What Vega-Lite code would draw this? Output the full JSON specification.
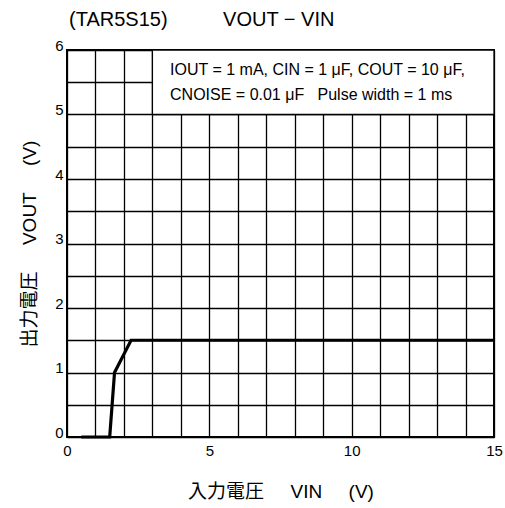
{
  "$schema": "https://vega.github.io/schema/vega-lite/v6.json",
  "width": 427,
  "height": 387,
  "autosize": {"type": "none"},
  "padding": {"left": 67, "top": 50, "right": 11, "bottom": 71},
  "background": "white",
  "config": {
    "font": "Liberation Sans",
    "view": {"stroke": "black", "strokeWidth": 2},
    "axis": {"gridColor": "black", "gridWidth": 1.3, "gridOpacity": 1, "domain": false, "ticks": false, "labelColor": "black", "labelFont": "Liberation Sans", "labelFontSize": 15, "titleColor": "black", "titleFont": "Liberation Sans, Noto Sans CJK JP", "titleFontSize": 19, "titleFontWeight": "normal"}
  },
  "title": {"text": "(TAR5S15)\u00a0\u00a0\u00a0\u00a0\u00a0\u00a0\u00a0\u00a0\u00a0\u00a0VOUT − VIN", "anchor": "start", "frame": "group", "fontSize": 20, "fontWeight": "normal", "font": "Liberation Sans", "color": "black", "offset": 8, "dx": 2},
  "datasets": {
    "curve": [
      {"x": 0.5, "y": 0},
      {"x": 1.5, "y": 0},
      {"x": 1.67, "y": 1.0},
      {"x": 2.25, "y": 1.5},
      {"x": 15, "y": 1.5}
    ],
    "box": [{"x": 3, "x2": 15, "y": 5, "y2": 6}],
    "notes": [
      {"x": 3.62, "y": 5.69, "label": "IOUT = 1 mA, CIN = 1 μF, COUT = 10 μF,"},
      {"x": 3.62, "y": 5.3, "label": "CNOISE = 0.01 μF\u00a0\u00a0\u00a0Pulse width = 1 ms"}
    ]
  },
  "encoding": {
    "x": {"field": "x", "type": "quantitative", "scale": {"domain": [0, 15], "nice": false, "zero": false},
          "axis": {"values": [0,1,2,3,4,5,6,7,8,9,10,11,12,13,14,15], "labelExpr": "datum.value % 5 === 0 ? format(datum.value, 'd') : ''", "title": "入力電圧\u00a0\u00a0\u00a0\u00a0\u00a0VIN\u00a0\u00a0\u00a0\u00a0\u00a0(V)", "titlePadding": 24, "labelPadding": 6, "labelFlush": false, "labelOverlap": false}},
    "y": {"field": "y", "type": "quantitative", "scale": {"domain": [0, 6], "nice": false, "zero": false},
          "axis": {"values": [0,0.5,1,1.5,2,2.5,3,3.5,4,4.5,5,5.5,6], "labelExpr": "datum.value % 1 === 0 ? format(datum.value, 'd') : ''", "title": "出力電圧\u00a0\u00a0\u00a0\u00a0\u00a0VOUT\u00a0\u00a0\u00a0\u00a0\u00a0(V)", "titlePadding": 15, "labelPadding": 4, "labelBaseline": "alphabetic", "labelFlush": false, "labelOverlap": false}}
  },
  "layer": [
    {
      "data": {"name": "box"},
      "mark": {"type": "rect", "fill": "white", "stroke": "black", "strokeWidth": 1.3},
      "encoding": {
        "x2": {"field": "x2"},
        "y2": {"field": "y2"}
      }
    },
    {
      "data": {"name": "notes"},
      "mark": {"type": "text", "align": "left", "baseline": "middle", "fontSize": 16, "font": "Liberation Sans", "color": "black"},
      "encoding": {
        "text": {"field": "label"}
      }
    },
    {
      "data": {"name": "curve"},
      "mark": {"type": "line", "color": "black", "strokeWidth": 3.2}
    }
  ]
}
